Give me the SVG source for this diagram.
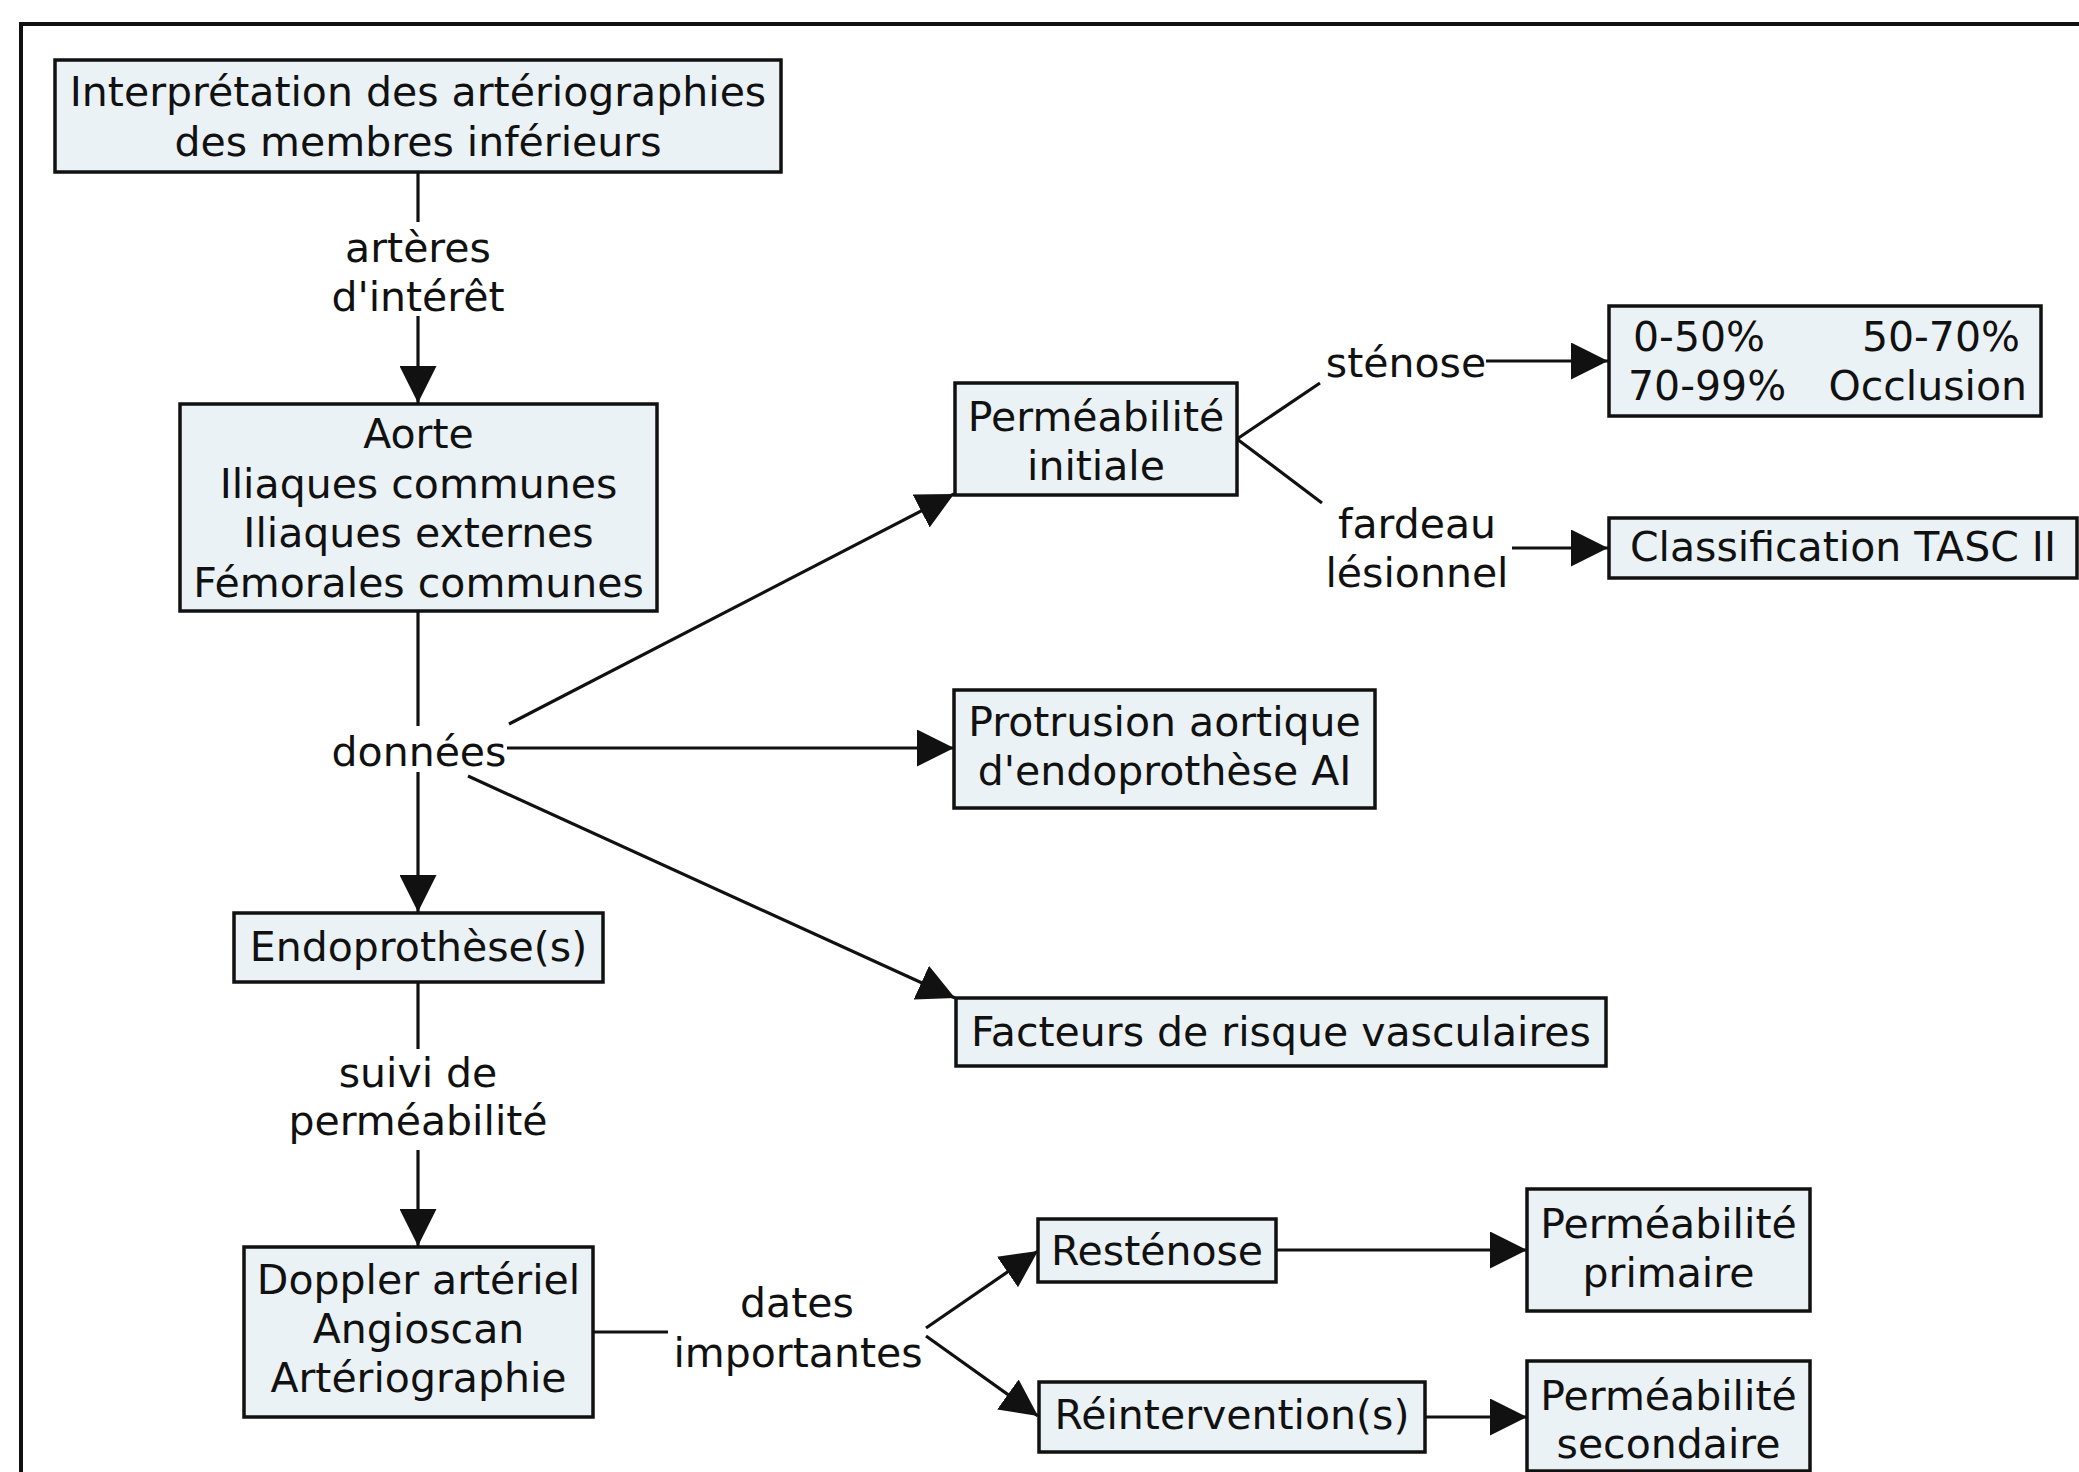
<svg xmlns="http://www.w3.org/2000/svg" width="2079" height="1472" viewBox="0 0 2079 1472">
<style>
.box{fill:#ebf2f5;stroke:#111;stroke-width:3.5}
.t{font-family:"DejaVu Sans","Verdana",sans-serif;font-size:41px;fill:#111;text-anchor:middle}
.ts{font-family:"DejaVu Sans","Verdana",sans-serif;font-size:41px;fill:#111}
.c{stroke:#111;stroke-width:3.2;fill:none}
.a{marker-end:url(#ah)}
</style>
<defs>
<marker id="ah" markerUnits="userSpaceOnUse" markerWidth="37" markerHeight="37" refX="37" refY="18.5" orient="auto" viewBox="0 0 37 37">
<path d="M0,0 L37,18.5 L0,37 z" fill="#111"/>
</marker>
</defs>
<rect x="21" y="24" width="2120" height="1520" fill="none" stroke="#111" stroke-width="4"/>
<g id="connectors">
<line class="c" x1="418" y1="172" x2="418" y2="222"/>
<line class="c a" x1="418" y1="316" x2="418" y2="403"/>
<line class="c" x1="418" y1="611" x2="418" y2="726"/>
<line class="c a" x1="418" y1="772" x2="418" y2="912"/>
<line class="c a" x1="509" y1="724" x2="954" y2="494"/>
<line class="c a" x1="507" y1="748" x2="954" y2="748"/>
<line class="c a" x1="468" y1="776" x2="955" y2="998"/>
<line class="c" x1="418" y1="982" x2="418" y2="1049"/>
<line class="c a" x1="418" y1="1150" x2="418" y2="1246"/>
<line class="c" x1="593" y1="1332" x2="668" y2="1332"/>
<line class="c a" x1="926" y1="1328" x2="1038" y2="1251"/>
<line class="c a" x1="926" y1="1336" x2="1038" y2="1416"/>
<line class="c a" x1="1276" y1="1250" x2="1527" y2="1250"/>
<line class="c a" x1="1425" y1="1417" x2="1527" y2="1417"/>
<line class="c" x1="1237" y1="439" x2="1320" y2="383"/>
<line class="c a" x1="1486" y1="361" x2="1608" y2="361"/>
<line class="c" x1="1237" y1="439" x2="1322" y2="503"/>
<line class="c a" x1="1512" y1="548" x2="1608" y2="548"/>
<text class="t" x="418" y="262">artères</text>
<text class="t" x="418" y="311">d'intérêt</text>
<text class="t" x="419" y="766">données</text>
<text class="t" x="418" y="1087">suivi de</text>
<text class="t" x="418" y="1135">perméabilité</text>
<text class="t" x="797" y="1317">dates</text>
<text class="t" x="798" y="1367">importantes</text>
<text class="t" x="1406" y="377">sténose</text>
<text class="t" x="1417" y="538">fardeau</text>
<text class="t" x="1417" y="587">lésionnel</text>
</g>
<g id="n1"><rect class="box" x="55" y="60" width="726" height="112"/>
<text class="t" x="418" y="106">Interprétation des artériographies</text>
<text class="t" x="418" y="156">des membres inférieurs</text></g>
<g id="n2"><rect class="box" x="180" y="404" width="477" height="207"/>
<text class="t" x="418.5" y="448">Aorte</text>
<text class="t" x="418.5" y="498">Iliaques communes</text>
<text class="t" x="418.5" y="547">Iliaques externes</text>
<text class="t" x="418.5" y="597">Fémorales communes</text></g>
<g id="n3"><rect class="box" x="234" y="913" width="369" height="69"/>
<text class="t" x="418.5" y="961">Endoprothèse(s)</text></g>
<g id="n4"><rect class="box" x="244" y="1247" width="349" height="170"/>
<text class="t" x="418.5" y="1294">Doppler artériel</text>
<text class="t" x="418.5" y="1343">Angioscan</text>
<text class="t" x="418.5" y="1392">Artériographie</text></g>
<g id="n5"><rect class="box" x="955" y="383" width="282" height="112"/>
<text class="t" x="1096" y="431">Perméabilité</text>
<text class="t" x="1096" y="480">initiale</text></g>
<g id="n6"><rect class="box" x="954" y="690" width="421" height="118"/>
<text class="t" x="1164.5" y="736">Protrusion aortique</text>
<text class="t" x="1164.5" y="785">d'endoprothèse AI</text></g>
<g id="n7"><rect class="box" x="956" y="998" width="650" height="68"/>
<text class="t" x="1281" y="1046">Facteurs de risque vasculaires</text></g>
<g id="n8"><rect class="box" x="1609" y="306" width="432" height="110"/>
<text class="ts" x="1633" y="351">0-50%</text>
<text class="ts" x="2020" y="351" text-anchor="end">50-70%</text>
<text class="ts" x="1628" y="400">70-99%</text>
<text class="ts" x="2027" y="400" text-anchor="end">Occlusion</text></g>
<g id="n9"><rect class="box" x="1609" y="518" width="468" height="60"/>
<text class="t" x="1843" y="561">Classification TASC II</text></g>
<g id="n10"><rect class="box" x="1038" y="1219" width="238" height="63"/>
<text class="t" x="1157" y="1265">Resténose</text></g>
<g id="n11"><rect class="box" x="1527" y="1189" width="283" height="122"/>
<text class="t" x="1668.5" y="1238">Perméabilité</text>
<text class="t" x="1668.5" y="1287">primaire</text></g>
<g id="n12"><rect class="box" x="1039" y="1382" width="386" height="70"/>
<text class="t" x="1232" y="1429">Réintervention(s)</text></g>
<g id="n13"><rect class="box" x="1527" y="1361" width="283" height="110"/>
<text class="t" x="1668.5" y="1410">Perméabilité</text>
<text class="t" x="1668.5" y="1458">secondaire</text></g>
</svg>
